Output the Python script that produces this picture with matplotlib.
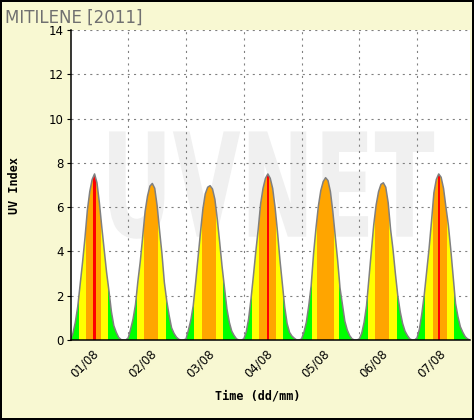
import matplotlib
matplotlib.use('Agg')
import matplotlib.pyplot as plt
import numpy as np
from matplotlib.patheffects import AbstractPathEffect
from matplotlib.transforms import Affine2D

plt.rcParams['lines.scale_dashes'] = False

# ---------------- data ----------------
title = "MITILENE [2011]"
day_labels = ["01/08", "02/08", "03/08", "04/08", "05/08", "06/08", "07/08"]
hours = list(range(24))  # hour of day
day1 = [0.0, 0.3, 0.8, 1.5, 2.5, 3.5, 4.6, 5.85, 6.7, 7.25, 7.5, 7.1, 6.2, 5.1, 4.06, 3.05, 2.2, 1.28, 0.65, 0.35, 0.12, 0.02, 0, 0]
day2 = [0.1, 0.5, 0.95, 1.6, 2.65, 3.55, 4.65, 5.8, 6.5, 6.95, 7.07, 6.85, 6.06, 4.95, 3.9, 2.6, 1.76, 1.1, 0.55, 0.3, 0.13, 0.03, 0, 0]
day3 = [0.05, 0.45, 0.9, 1.55, 2.6, 3.75, 4.85, 5.9, 6.6, 6.9, 6.97, 6.82, 6.35, 5.45, 4.4, 3.3, 2.35, 1.4, 0.8, 0.4, 0.2, 0.05, 0, 0]
day4 = [0.05, 0.35, 0.95, 1.85, 2.9, 4.0, 5.0, 6.15, 6.85, 7.3, 7.5, 7.3, 6.85, 6.0, 4.9, 3.65, 2.55, 1.5, 0.75, 0.35, 0.18, 0.08, 0, 0]
day5 = [0.05, 0.35, 0.8, 1.55, 2.45, 3.9, 5.05, 6.05, 6.75, 7.15, 7.33, 7.2, 6.7, 5.8, 4.7, 3.6, 2.34, 1.6, 0.85, 0.45, 0.2, 0.05, 0, 0]
day6 = [0.05, 0.3, 0.8, 1.55, 2.8, 4.0, 5.2, 6.1, 6.7, 7.03, 7.1, 6.9, 6.2, 5.0, 4.1, 3.0, 2.0, 1.28, 0.75, 0.4, 0.2, 0.05, 0, 0]
day7 = [0.1, 0.5, 1.2, 2.05, 3.1, 4.14, 5.35, 6.65, 7.25, 7.5, 7.35, 6.85, 6.0, 5.2, 4.1, 2.9, 1.65, 1.05, 0.6, 0.35, 0.15, 0.05, 0, 0]
days = [day1, day2, day3, day4, day5, day6, day7]

# UV-level colour classes (upper bounds) and colours
level_bounds = [2.5, 5.5, 7.5]
level_colors = ['#00ff00', '#ffff00', '#ffa500', '#ff0000']

BG = '#f8f8d2'


class Stretch(AbstractPathEffect):
    """Stretch a text (watermark) about its anchor point."""
    def __init__(self, sx=1.0, sy=1.0):
        super().__init__()
        self.sx = sx
        self.sy = sy

    def draw_path(self, renderer, gc, tpath, affine, rgbFace=None):
        m = affine.get_matrix()
        x0, y0 = m[0, 2], m[1, 2]
        aff = affine + Affine2D().translate(-x0, -y0).scale(self.sx, self.sy).translate(x0, y0)
        renderer.draw_path(gc, tpath, aff, rgbFace)


def color_for(val):
    for b, c in zip(level_bounds, level_colors):
        if val < b:
            return c
    return level_colors[-1]


W, H = 474, 420
fig = plt.figure(figsize=(W / 100, H / 100), dpi=100)
fig.patch.set_facecolor(BG)
fig.patch.set_edgecolor('black')
fig.patch.set_linewidth(1.5)

ax = fig.add_axes([70.5 / W, 80 / H, 399.5 / W, 310 / H])
ax.set_facecolor('white')

t = np.concatenate([np.array(hours) + 24 * i for i in range(len(days))])
v = np.concatenate([np.array(d, dtype=float) for d in days])

# filled area (used as clip for coloured bands)
poly = ax.fill_between(t, v, 0, facecolor='none', edgecolor='none', zorder=2)
clip = poly.get_paths()[0]
bars = ax.bar(t, np.full_like(v, v.max()), width=1.0,
              color=[color_for(x) for x in v], linewidth=0,
              antialiased=False, zorder=2)
for b in bars:
    b.set_clip_path(clip, ax.transData)
ax.plot(t, v, color='#808080', lw=1.1, zorder=3)

ax.set_xlim(0, 166)
ax.set_ylim(0, 14)

grid_style = dict(color='#808080', linestyle=(0, (1.5, 3.0)), linewidth=0.8)

# y axis
ax.set_yticks(np.arange(0, 15, 2))
ax.tick_params(axis='y', length=3, width=0.8, pad=2, labelsize=8.5,
               direction='out', colors='black')
ax.yaxis.grid(True, **grid_style)

# x axis
ax.set_xticks([24 * i + 9 for i in range(len(day_labels))])
ax.set_xticklabels(day_labels, rotation=45, ha='right', va='top',
                   rotation_mode='anchor', fontsize=8.5)
ax.set_xticks([24 * i for i in range(1, len(day_labels))], minor=True)
ax.tick_params(axis='x', which='both', length=0, pad=5)
ax.xaxis.grid(True, which='minor', **grid_style)
ax.xaxis.grid(False, which='major')

for s in ['top', 'right']:
    ax.spines[s].set_visible(False)
for s in ['left', 'bottom']:
    ax.spines[s].set_linewidth(1.1)
    ax.spines[s].set_color('black')
    ax.spines[s].set_zorder(4)

# watermark
ax.text((101 - 70.5) / 399.5, (340 - 236.7) / 310, 'UVNET',
        transform=ax.transAxes, fontsize=63.4, fontweight='bold',
        color='#f0f0f0', ha='left', va='baseline', zorder=0.1,
        path_effects=[Stretch(1.0, 1.64)])

# texts
fig.text(5 / W, 1 - 22.5 / H, title, color='#707070', fontsize=12,
         ha='left', va='baseline')
fig.text(15 / W, 1 - 186 / H, 'UV Index', rotation=90,
         family='DejaVu Sans Mono', weight='bold', fontsize=8.5,
         ha='center', va='center')
fig.text(258 / W, 24 / H, 'Time (dd/mm)', family='DejaVu Sans Mono',
         weight='bold', fontsize=8.5, ha='center', va='center')

fig.savefig('out.png', dpi=100, facecolor=fig.get_facecolor(),
            edgecolor=fig.get_edgecolor())
